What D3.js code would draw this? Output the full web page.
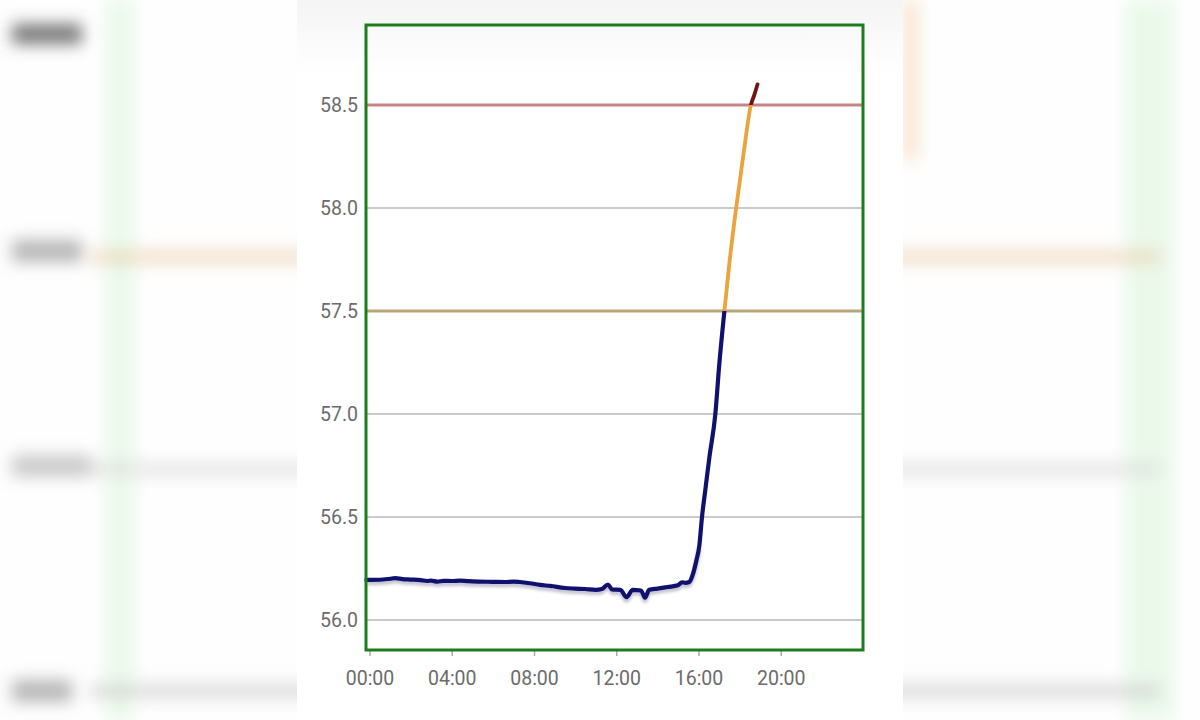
<!DOCTYPE html>
<html>
<head>
<meta charset="utf-8">
<script src="https://cdn.jsdelivr.net/npm/d3@7"></script>
<style>
  html, body { margin: 0; padding: 0; background: #ffffff; }
  svg { display: block; }
</style>
</head>
<body>
<svg id="chart" width="1200" height="720"></svg>
<script>
// ---- data (hours since 00:00, value) ----
const hours = [-0.15, 0.5, 1.0, 1.25, 1.6, 2.0, 2.5, 2.8, 3.0, 3.3, 3.6, 4.0, 4.4, 4.8, 5.3, 6.0, 6.6, 7.0, 7.3, 7.8,
  8.3, 8.8, 9.5, 10.0, 10.5, 11.0, 11.3, 11.6, 11.8, 12.2, 12.5, 12.8, 13.2, 13.4, 13.6, 14.0, 14.5, 15.0, 15.2, 15.36,
  15.55, 15.70, 15.90, 16.04, 16.17, 16.33, 16.53, 16.82, 17.01, 17.26, 17.5, 17.83, 18.2, 18.55, 18.72, 18.87];
const values = [56.194, 56.195, 56.200, 56.203, 56.198, 56.196, 56.193, 56.189, 56.191, 56.186, 56.190, 56.189, 56.191, 56.188, 56.186, 56.185, 56.184, 56.186, 56.184, 56.178,
  56.170, 56.165, 56.155, 56.152, 56.150, 56.146, 56.150, 56.172, 56.148, 56.146, 56.110, 56.146, 56.143, 56.108, 56.146, 56.152, 56.160, 56.168, 56.183, 56.180,
  56.184, 56.214, 56.290, 56.360, 56.500, 56.630, 56.790, 57.000, 57.240, 57.500, 57.730, 58.000, 58.270, 58.500, 58.550, 58.600];
const yTicks = [56.0, 56.5, 57.0, 57.5, 58.0, 58.5];
const xTickHours = [0, 4, 8, 12, 16, 20];
const xTickLabels = ["00:00", "04:00", "08:00", "12:00", "16:00", "20:00"];
const warnLevel = 57.5;
const alarmLevel = 58.5;

const svg = d3.select("#chart");
const W = 1200, H = 720;

// ---- blurred backdrop (phone screenshot surroundings) ----
const defs = svg.append("defs");
defs.append("filter").attr("id", "blurBg").attr("x", "-20%").attr("y", "-50%").attr("width", "140%").attr("height", "200%")
  .append("feGaussianBlur").attr("stdDeviation", 8);
defs.append("filter").attr("id", "shadow").attr("x", "-10%").attr("y", "-10%").attr("width", "120%").attr("height", "130%")
  .append("feGaussianBlur").attr("stdDeviation", 1.6);
const grad = defs.append("linearGradient").attr("id", "panelGrad").attr("x1", 0).attr("y1", 0).attr("x2", 0).attr("y2", 1);
grad.append("stop").attr("offset", "0%").attr("stop-color", "#f4f4f4");
grad.append("stop").attr("offset", "10%").attr("stop-color", "#ffffff");
grad.append("stop").attr("offset", "100%").attr("stop-color", "#ffffff");

svg.append("rect").attr("width", W).attr("height", H).attr("fill", "#fefefe");
const bg = svg.append("g").attr("filter", "url(#blurBg)");
bg.append("rect").attr("x", 105).attr("y", 0).attr("width", 30).attr("height", H).attr("fill", "#e6f7e6").attr("opacity", 0.8);
bg.append("rect").attr("x", 1125).attr("y", 0).attr("width", 50).attr("height", H).attr("fill", "#e6f7e6").attr("opacity", 0.8);
bg.append("rect").attr("x", 12).attr("y", 24).attr("width", 70).attr("height", 20).attr("fill", "#555").attr("opacity", 0.8);
bg.append("rect").attr("x", 12).attr("y", 240).attr("width", 70).attr("height", 22).attr("fill", "#888").attr("opacity", 0.6);
bg.append("rect").attr("x", 90).attr("y", 250).attr("width", 1070).attr("height", 14).attr("fill", "#e9c9a0").attr("opacity", 0.55);
bg.append("rect").attr("x", 12).attr("y", 455).attr("width", 80).attr("height", 22).attr("fill", "#999").attr("opacity", 0.5);
bg.append("rect").attr("x", 90).attr("y", 462).attr("width", 1070).attr("height", 14).attr("fill", "#d8d8d8").attr("opacity", 0.6);
bg.append("rect").attr("x", 12).attr("y", 680).attr("width", 60).attr("height", 22).attr("fill", "#888").attr("opacity", 0.6);
bg.append("rect").attr("x", 90).attr("y", 684).attr("width", 1070).attr("height", 14).attr("fill", "#cfcfcf").attr("opacity", 0.7);
bg.append("rect").attr("x", 903).attr("y", 0).attr("width", 15).attr("height", 160).attr("fill", "#f3d6b0").attr("opacity", 0.6);

// central panel
svg.append("rect").attr("x", 297).attr("y", 0).attr("width", 606).attr("height", H).attr("fill", "url(#panelGrad)");

// ---- plot ----
const plot = { left: 366, right: 863, top: 25, bottom: 650 };
const x = d3.scaleLinear().domain([-0.17, 24]).range([plot.left, plot.right]);
const y = d3.scaleLinear().domain([55.854, 58.888]).range([plot.bottom, plot.top]);

const data = hours.map((h, i) => ({ h, v: values[i] }));

// grid lines
svg.append("g").selectAll("line").data(yTicks.filter(t => t !== warnLevel && t !== alarmLevel)).join("line")
  .attr("x1", plot.left).attr("x2", plot.right)
  .attr("y1", d => y(d)).attr("y2", d => y(d))
  .attr("stroke", "#b8b8b8").attr("stroke-width", 1.5);

// threshold lines
svg.append("line").attr("x1", plot.left).attr("x2", plot.right)
  .attr("y1", y(warnLevel)).attr("y2", y(warnLevel))
  .attr("stroke", "#b9a577").attr("stroke-width", 3);
svg.append("line").attr("x1", plot.left).attr("x2", plot.right)
  .attr("y1", y(alarmLevel)).attr("y2", y(alarmLevel))
  .attr("stroke", "#c58585").attr("stroke-width", 3);

// y labels
svg.append("g").selectAll("text").data(yTicks).join("text")
  .attr("x", 358).attr("y", d => y(d)).attr("dy", "0.36em")
  .attr("text-anchor", "end")
  .attr("font-family", "Roboto, 'Noto Sans', sans-serif").attr("font-size", 19.5)
  .attr("fill", "#6b6b6b")
  .text(d => d.toFixed(1));

// x axis ticks + labels
const xAxis = d3.axisBottom(x).tickValues(xTickHours).tickFormat((d, i) => xTickLabels[i]).tickSize(6).tickPadding(15);
const xg = svg.append("g").attr("transform", `translate(0,${plot.bottom})`).call(xAxis);
xg.select(".domain").remove();
xg.selectAll(".tick line").attr("stroke", "#aaa").attr("stroke-width", 1.5);
xg.selectAll(".tick text").attr("font-family", "Roboto, 'Noto Sans', sans-serif").attr("font-size", 19.5).attr("fill", "#6b6b6b");

// line
const line = d3.line().x(d => x(d.h)).y(d => y(d.v)).curve(d3.curveMonotoneX);

// clip regions by threshold
const clips = [
  { id: "cBlue", y0: y(warnLevel), y1: H, color: "#10106e" },
  { id: "cOrange", y0: y(alarmLevel), y1: y(warnLevel), color: "#eba33c" },
  { id: "cRed", y0: 0, y1: y(alarmLevel), color: "#6e1515" }
];
clips.forEach(c => {
  defs.append("clipPath").attr("id", c.id).append("rect")
    .attr("x", 0).attr("width", W).attr("y", c.y0).attr("height", c.y1 - c.y0);
});

// shadow under the blue segment
svg.append("path").datum(data.filter(d => d.v <= 56.4))
  .attr("d", line).attr("fill", "none")
  .attr("stroke", "#9a9ab0").attr("stroke-width", 4.5).attr("opacity", 0.6)
  .attr("transform", "translate(0,3)").attr("filter", "url(#shadow)");

clips.forEach(c => {
  svg.append("path").datum(data)
    .attr("clip-path", `url(#${c.id})`)
    .attr("d", line).attr("fill", "none")
    .attr("stroke", c.color).attr("stroke-width", c.id === "cBlue" ? 4.2 : 3.8)
    .attr("stroke-linejoin", "round").attr("stroke-linecap", "round");
});

// border
svg.append("rect").attr("x", plot.left).attr("y", plot.top)
  .attr("width", plot.right - plot.left).attr("height", plot.bottom - plot.top)
  .attr("fill", "none").attr("stroke", "#1d7d1d").attr("stroke-width", 3);
</script>
</body>
</html>
